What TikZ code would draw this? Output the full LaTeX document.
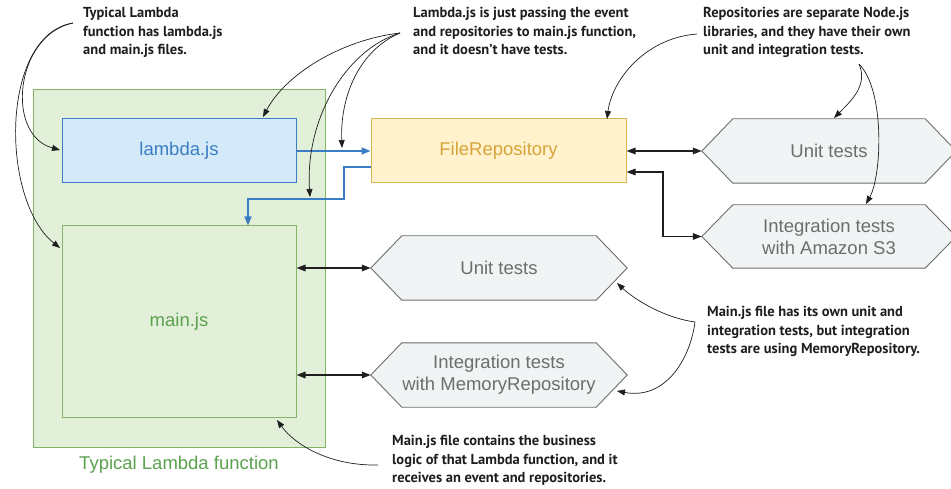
\documentclass[tikz,border=0pt]{standalone}
\usepackage{fontspec}
\setmainfont{Liberation Sans}
\newfontfamily\annfont{PT Sans}
\usetikzlibrary{arrows.meta,backgrounds}
\definecolor{gfill}{HTML}{E2EFD9}
\definecolor{gline}{HTML}{82B366}
\definecolor{gtext}{HTML}{5BA24F}
\definecolor{bfill}{HTML}{D5EAF8}
\definecolor{bline}{HTML}{3B7DC4}
\definecolor{yfill}{HTML}{FFF2CC}
\definecolor{yline}{HTML}{D6B656}
\definecolor{ytext}{HTML}{D6A43A}
\definecolor{hfill}{HTML}{F1F4F5}
\definecolor{hline}{HTML}{6D6D6D}
\definecolor{ink}{HTML}{1E1E1E}
\tikzset{
  lbl/.style={font=\fontsize{18.5}{22}\selectfont, align=center, inner sep=0pt},
  gbox/.style={lbl, draw=gline, fill=gfill, line width=1pt},
  bbox/.style={lbl, draw=bline, fill=bfill, line width=1pt, text=bline},
  ybox/.style={lbl, draw=yline, fill=yfill, line width=1pt, text=ytext},
  hexnode/.style={lbl, text=hline},
  hexline/.style={draw=hline, fill=hfill, line width=0.9pt},
  ann/.style={font=\annfont\bfseries\fontsize{14.5}{18.5}\selectfont, align=left, inner sep=0pt, anchor=north west, text=ink},
  annarrow/.style={draw=ink, line width=0.7pt, -{Triangle[length=8pt,width=6pt]}},
  barrow/.style={draw=bline, line width=1.5pt, -{Triangle[length=9pt,width=7pt]}},
  karrow/.style={draw=ink, line width=1.5pt, {Triangle[length=9pt,width=6.5pt]}-{Triangle[length=9pt,width=6.5pt]}},
}
\begin{document}
\begin{tikzpicture}[x=1pt,y=-1pt]
\useasboundingbox (0,0) rectangle (951,489);
% containers and boxes
\node[gbox, minimum width=292pt, minimum height=357pt] (outer) at (179,268.5) {};
\node[text=gtext, lbl] (outerlbl) at (179,465) {Typical Lambda function};
\node[bbox, minimum width=234pt, minimum height=64pt] (lam) at (179,151) {lambda.js};
\node[gbox, text=gtext, minimum width=234pt, minimum height=191pt] (main) at (179,321.5) {main.js};
\node[ybox, minimum width=255pt, minimum height=64pt] (fr) at (498.5,151) {FileRepository};
% hexagon nodes
\node[hexnode, minimum width=254pt, minimum height=64pt] (ut1) at (829,151) {Unit tests};
\node[hexnode, minimum width=254pt, minimum height=63pt] (s3) at (829,236.5) {Integration tests\\with Amazon S3};
\node[hexnode, minimum width=256pt, minimum height=64pt] (ut2) at (499,268) {Unit tests};
\node[hexnode, minimum width=256pt, minimum height=64pt] (im) at (499,375) {Integration tests\\with MemoryRepository};
\begin{scope}[on background layer]
\foreach \h in {ut1,s3,ut2,im}{
  \path[hexline] (\h.west) -- ([xshift=31pt]\h.north west) -- ([xshift=-31pt]\h.north east) -- (\h.east)
    -- ([xshift=-31pt]\h.south east) -- ([xshift=31pt]\h.south west) -- cycle;
}
\end{scope}
% connectors
\coordinate (bend1) at (344,199);
\coordinate (j1) at (663,200);
\draw[barrow] (lam.east) -- (fr.west);
\draw[barrow] ([yshift=-16pt]fr.west) -| (bend1) -| ([xshift=69pt]main.north);
\draw[karrow] (fr.east) -- (ut1.west);
\draw[karrow] ([yshift=-21pt]fr.east) -| (j1 |- s3.west) -- (s3.west);
\draw[karrow] (ut2.west -| main.east) -- (ut2.west);
\draw[karrow] (im.west -| main.east) -- (im.west);
% annotations
\node[ann] (a1) at (83,7) {Typical Lambda\\function has lambda.js\\and main.js files.};
\node[ann] (a2) at (413,7) {Lambda.js is just passing the event\\and repositories to main.js function,\\and it doesn’t have tests.};
\node[ann] (a3) at (703,7) {Repositories are separate Node.js\\libraries, and they have their own\\unit and integration tests.};
\node[ann] (a4) at (707,306) {Main.js file has its own unit and\\integration tests, but integration\\tests are using MemoryRepository.};
\node[ann] (a5) at (392,435) {Main.js file contains the business\\logic of that Lambda function, and it\\receives an event and repositories.};
\coordinate (s1) at (73,23);
\coordinate (s2) at (400,33);
\coordinate (s3s) at (697,34);
\coordinate (s3b) at (859,64);
\coordinate (s4) at (695,322);
\coordinate (s5) at (378,465);
\coordinate (t1a) at (60,150);
\coordinate (t1b) at (60,248);
\coordinate (t2a) at (263,117);
\coordinate (t2b) at (342,148);
\coordinate (t2c) at (310,197);
\coordinate (t3a) at (607,119);
\coordinate (t3b) at (834,118);
\coordinate (t3c) at (866,204);
\coordinate (t4a) at (617,283);
\coordinate (t4b) at (617,391);
\coordinate (t5) at (277,420);
\draw[annarrow] (s1) .. controls (15,35) and (5,135) .. (t1a);
\draw[annarrow] (s1) .. controls (0,35) and (0,200) .. (t1b);
\draw[annarrow] (s2) .. controls (340,40) and (285,75) .. (t2a);
\draw[annarrow] (s2) .. controls (360,50) and (340,95) .. (t2b);
\draw[annarrow] (s2) .. controls (345,50) and (305,120) .. (t2c);
\draw[annarrow] (s3s) .. controls (645,38) and (612,80) .. (t3a);
\draw[annarrow] (s3b) .. controls (868,85) and (852,100) .. (t3b);
\draw[annarrow] (s3b) .. controls (885,90) and (882,175) .. (t3c);
\draw[annarrow] (s4) .. controls (665,318) and (635,300) .. (t4a);
\draw[annarrow] (s4) .. controls (690,360) and (665,400) .. (t4b);
\draw[annarrow] (s5) .. controls (330,466) and (295,445) .. (t5);
\end{tikzpicture}
\end{document}
